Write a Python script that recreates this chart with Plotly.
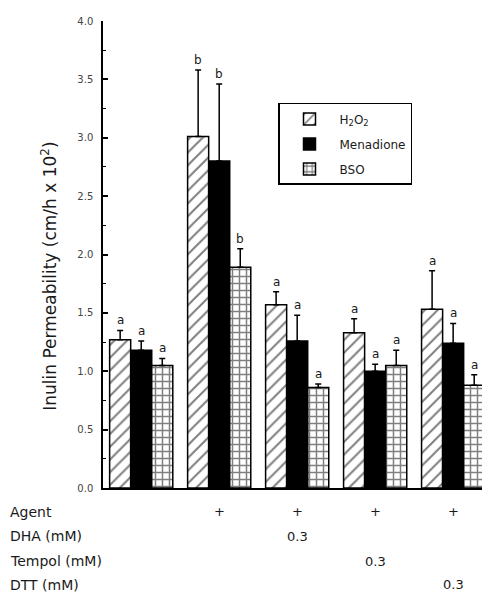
import plotly.graph_objects as go

groups = [0, 1, 2, 3, 4]
series_names = ["H<sub>2</sub>O<sub>2</sub>", "Menadione", "BSO"]
h2o2 = [1.27, 3.01, 1.57, 1.33, 1.53]
h2o2_err = [0.08, 0.57, 0.11, 0.12, 0.33]
menadione = [1.18, 2.80, 1.26, 1.00, 1.24]
menadione_err = [0.08, 0.66, 0.22, 0.06, 0.17]
bso = [1.05, 1.89, 0.86, 1.05, 0.88]
bso_err = [0.06, 0.16, 0.03, 0.13, 0.09]
h2o2_sig = ["a", "b", "a", "a", "a"]
menadione_sig = ["a", "b", "a", "a", "a"]
bso_sig = ["a", "b", "a", "a", "a"]

row_labels = ["Agent", "DHA (mM)", "Tempol (mM)", "DTT (mM)"]
agent_row = ["", "+", "+", "+", "+"]
dha_row = ["", "", "0.3", "", ""]
tempol_row = ["", "", "", "0.3", ""]
dtt_row = ["", "", "", "", "0.3"]
y_title = "Inulin Permeability (cm/h x 10<sup>2</sup>)"

FONT = "DejaVu Sans, Verdana, sans-serif"
TXT = "#1a1a1a"

fig = go.Figure()

styles = [
    dict(pattern=dict(shape="/", fgcolor="black", bgcolor="white", size=9, solidity=0.22), color="white"),
    dict(pattern=None, color="black"),
    dict(pattern=dict(shape="+", fgcolor="black", bgcolor="white", size=7, solidity=0.38), color="white"),
]
data = [(h2o2, h2o2_err), (menadione, menadione_err), (bso, bso_err)]

for i, (name, (vals, errs), st) in enumerate(zip(series_names, data, styles)):
    marker = dict(color=st["color"], line=dict(color="black", width=1.5))
    if st["pattern"]:
        marker["pattern"] = st["pattern"]
    fig.add_trace(go.Bar(
        x=groups, y=vals, name=name, marker=marker, legendgroup=f"g{i}",
        error_y=dict(type="data", array=errs, arrayminus=[0] * len(errs),
                     symmetric=False, color="black", thickness=1.5, width=3),
    ))

offsets = [-0.27, 0, 0.27]
annotations = []
for off, (vals, errs), sigs in zip(offsets, data, [h2o2_sig, menadione_sig, bso_sig]):
    for g, v, e, s in zip(groups, vals, errs, sigs):
        annotations.append(dict(x=g + off, y=v + e, xref="x", yref="y", text=s,
                                showarrow=False, yanchor="bottom", yshift=1,
                                font=dict(family=FONT, size=12, color=TXT)))

# page has an 8px body margin; figure coordinates = screen - 8
row_y = [504, 529, 554, 578]
plot_top, plot_bottom = 7, 480
ph = plot_bottom - plot_top
pw = 379
for lab, yy in zip(row_labels, row_y):
    annotations.append(dict(x=-95 / pw, y=(plot_bottom - yy) / ph, xref="paper", yref="paper",
                            text=lab, showarrow=False, xanchor="left", yanchor="middle",
                            font=dict(family=FONT, size=14, color=TXT)))
for row, yy in zip([agent_row, dha_row, tempol_row, dtt_row], row_y):
    for g, t in zip(groups, row):
        if t:
            annotations.append(dict(x=g, y=(plot_bottom - yy) / ph, xref="x", yref="paper",
                                    text=t, showarrow=False, xanchor="center", yanchor="middle",
                                    font=dict(family=FONT, size=13, color=TXT)))

annotations.append(dict(x=(41 - 95) / pw, y=(plot_bottom - 266) / ph, xref="paper", yref="paper",
                        text=y_title, textangle=-90, showarrow=False,
                        xanchor="center", yanchor="middle",
                        font=dict(family=FONT, size=17, color=TXT)))

fig.update_layout(
    width=501, height=601,
    margin=dict(l=95, r=27, t=7, b=121),
    paper_bgcolor="white", plot_bgcolor="white",
    barmode="group", bargap=0.19, bargroupgap=0,
    showlegend=True,
    legend=dict(x=(278 - 103) / pw, y=(488 - 98) / ph, xanchor="left", yanchor="top",
                bordercolor="black", borderwidth=1.5, bgcolor="white",
                font=dict(family=FONT, size=12, color=TXT),
                tracegroupgap=6, itemwidth=50),
    annotations=annotations,
    xaxis=dict(range=[-0.49, 4.37], showline=True, linecolor="black", linewidth=1.5,
               showticklabels=False, ticks="", showgrid=False, zeroline=False),
    yaxis=dict(range=[0, 4], dtick=0.5, tickformat=".1f", showline=True, linecolor="black",
               linewidth=1.5, ticks="inside", ticklen=5, tickcolor="black", tickwidth=1.5,
               minor=dict(ticks="inside", dtick=0.25, ticklen=3, tickcolor="black", tickwidth=1),
               showgrid=False, zeroline=False, ticklabelstandoff=6,
               tickfont=dict(family=FONT, size=10, color="#444")),
)

fig.write_html("out.html")
